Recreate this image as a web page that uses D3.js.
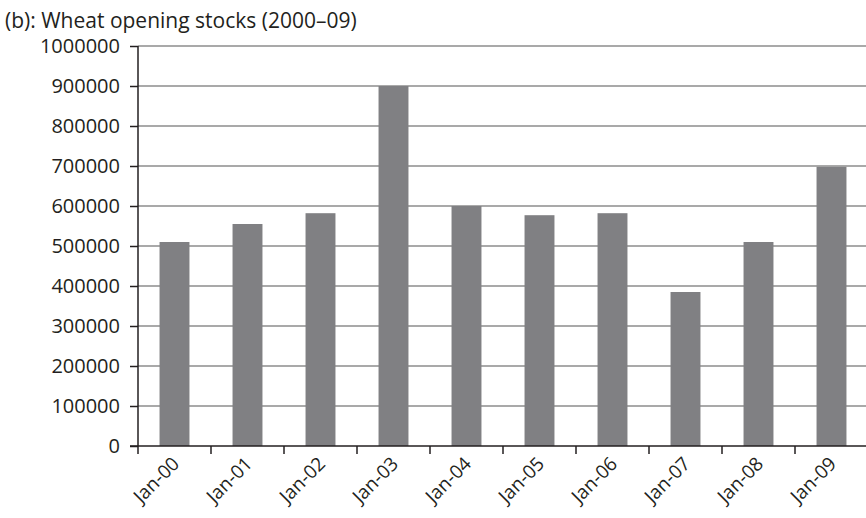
<!DOCTYPE html>
<html>
  <head lang="en">
    <meta charset="utf-8">
    <title>Wheat opening stocks</title>
    <script type="text/javascript" src="https://cdn.jsdelivr.net/npm/d3@7"></script>
    <style>
      body { margin: 0; background: #fff; }
      text { font-family: "Open Sans", sans-serif; fill: #231f20; }
    </style>
  </head>
  <body>
    <script type="text/javascript">

      // data
      var years = ["Jan-00", "Jan-01", "Jan-02", "Jan-03", "Jan-04",
                   "Jan-05", "Jan-06", "Jan-07", "Jan-08", "Jan-09"];
      var stocks = [510000, 555000, 582000, 900000, 600000,
                    577000, 582000, 385000, 510000, 698000];
      var yTicks = [0, 100000, 200000, 300000, 400000, 500000,
                    600000, 700000, 800000, 900000, 1000000];

      var data = years.map(function(y, i) {
        return {year: y, value: stocks[i]};
      });

      var width = 866, height = 518;
      var margin = {top: 46, right: -2, bottom: 72, left: 138};
      var w = width - margin.left - margin.right;
      var h = height - margin.top - margin.bottom;

      var svg = d3.select("body")
                  .append("svg")
                  .attr("width", width)
                  .attr("height", height);

      // title
      svg.append("text")
         .attr("x", 5)
         .attr("y", 28)
         .style("font-size", "21px")
         .text("(b): Wheat opening stocks (2000\u201309)");

      var g = svg.append("g")
                 .attr("transform", "translate(" + margin.left + "," + margin.top + ")");

      var x = d3.scaleBand()
                .domain(years)
                .range([0, w])
                .paddingInner(0.59)
                .paddingOuter(0.295);

      var y = d3.scaleLinear()
                .domain([0, 1000000])
                .range([h, 0]);

      // gridlines
      g.selectAll(".grid")
       .data(yTicks.filter(function(d) { return d > 0; }))
       .enter()
       .append("line")
       .attr("x1", 0)
       .attr("x2", w)
       .attr("y1", function(d) { return y(d); })
       .attr("y2", function(d) { return y(d); })
       .attr("stroke", "#8c8c8c")
       .attr("stroke-width", 1.5);

      // bars
      g.selectAll("rect")
       .data(data)
       .enter()
       .append("rect")
       .attr("x", function(d) { return x(d.year); })
       .attr("y", function(d) { return y(d.value); })
       .attr("width", x.bandwidth())
       .attr("height", function(d) { return h - y(d.value); })
       .attr("fill", "#808083");

      // y axis
      var yAxis = g.append("g")
                   .call(d3.axisLeft(y).tickValues(yTicks).tickSize(8).tickPadding(10)
                     .tickFormat(d3.format("d")));
      yAxis.select(".domain").attr("stroke", "#231f20").attr("stroke-width", 1.5)
           .attr("d", "M0," + h + "V0");
      yAxis.selectAll(".tick line").attr("stroke", "#231f20").attr("stroke-width", 1.5);
      yAxis.selectAll("text").style("font-size", "20px").attr("fill", "#231f20");

      // x axis with ticks on band boundaries
      var xAxis = g.append("g")
                   .attr("transform", "translate(0," + h + ")");
      xAxis.append("line")
           .attr("x1", -8).attr("x2", w)
           .attr("stroke", "#231f20").attr("stroke-width", 1.5);
      xAxis.selectAll(".xtick")
           .data(years)
           .enter()
           .append("line")
           .attr("x1", function(d) { return x(d) - x.step() * 0.295; })
           .attr("x2", function(d) { return x(d) - x.step() * 0.295; })
           .attr("y1", 0)
           .attr("y2", 8)
           .attr("stroke", "#231f20")
           .attr("stroke-width", 1.5);
      xAxis.selectAll(".xlabel")
           .data(years)
           .enter()
           .append("text")
           .attr("text-anchor", "end")
           .style("font-size", "19px")
           .attr("transform", function(d) {
             var cx = x(d) + x.bandwidth() / 2 + 6;
             return "translate(" + cx + ",19) rotate(-45)";
           })
           .text(function(d) { return d; });
    </script>
  </body>
</html>
